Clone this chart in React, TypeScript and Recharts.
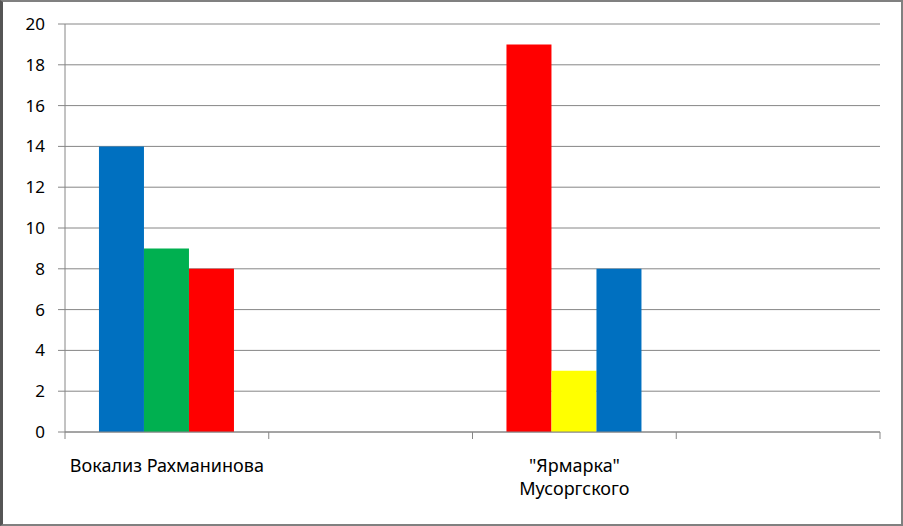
import React from 'react';
import { BarChart, Bar, XAxis, YAxis, CartesianGrid, Cell } from 'recharts';

const categories = ['Вокализ Рахманинова', '', '"Ярмарка"\nМусоргского', ''];
const series1 = [14, null, 19, null];
const series2 = [9, null, 3, null];
const series3 = [8, null, 8, null];
const colors1 = ['#0070C0', '#0070C0', '#FF0000', '#FF0000'];
const colors2 = ['#00B050', '#00B050', '#FFFF00', '#FFFF00'];
const colors3 = ['#FF0000', '#FF0000', '#0070C0', '#0070C0'];
const yTicks = [0, 2, 4, 6, 8, 10, 12, 14, 16, 18, 20];

const data = categories.map((name, i) => ({
  name,
  s1: series1[i],
  s2: series2[i],
  s3: series3[i],
}));

const FONT = '"Noto Sans", "Open Sans", sans-serif';
const AXIS = '#868686';
const TICK_LEN = 7;

const CatTick = (props: any) => {
  const { x, y, payload, index, width, visibleTicksCount } = props;
  const count = visibleTicksCount || categories.length;
  const band = width / count;
  const lines = String(payload.value).split('\n');
  const left = x - band / 2;
  const right = x + band / 2;
  return (
    <g>
      <line x1={left} x2={left} y1={y} y2={y + TICK_LEN} stroke={AXIS} strokeWidth={1} />
      {index === count - 1 && (
        <line x1={right} x2={right} y1={y} y2={y + TICK_LEN} stroke={AXIS} strokeWidth={1} />
      )}
      <text x={x} y={y} textAnchor="middle" fontSize={18} fontFamily={FONT} fill="#000">
        {lines.map((l, i) => (
          <tspan key={i} x={x} dy={i === 0 ? 40 : 23}>
            {l}
          </tspan>
        ))}
      </text>
    </g>
  );
};

export default function App() {
  return (
    <div style={{ position: 'absolute', left: 0, top: 0, width: 903, height: 526, background: '#fff' }}>
      <BarChart
        width={903}
        height={526}
        data={data}
        margin={{ top: 24, right: 23, bottom: 0, left: 0 }}
        barCategoryGap="16.67%"
        barGap={0}
      >
        <CartesianGrid vertical={false} stroke={AXIS} strokeWidth={1} />
        <XAxis
          dataKey="name"
          height={94}
          stroke={AXIS}
          tickLine={false}
          tickSize={0}
          tickMargin={0}
          interval={0}
          tick={<CatTick />}
        />
        <YAxis
          width={65}
          domain={[0, 20]}
          ticks={yTicks}
          interval={0}
          stroke={AXIS}
          tickSize={7}
          tickMargin={13}
          tick={{ fill: '#000', fontSize: 17, fontFamily: FONT }}
        />
        <Bar dataKey="s1" isAnimationActive={false}>
          {data.map((_, i) => (
            <Cell key={i} fill={colors1[i]} />
          ))}
        </Bar>
        <Bar dataKey="s2" isAnimationActive={false}>
          {data.map((_, i) => (
            <Cell key={i} fill={colors2[i]} />
          ))}
        </Bar>
        <Bar dataKey="s3" isAnimationActive={false}>
          {data.map((_, i) => (
            <Cell key={i} fill={colors3[i]} />
          ))}
        </Bar>
      </BarChart>
      <div
        style={{
          position: 'absolute',
          left: 0,
          top: 0,
          width: 903,
          height: 526,
          boxSizing: 'border-box',
          borderTop: '2px solid #808080',
          borderRight: '2px solid #808080',
          borderBottom: '2px solid #808080',
          borderLeft: '3px solid #555',
          pointerEvents: 'none',
        }}
      />
    </div>
  );
}
